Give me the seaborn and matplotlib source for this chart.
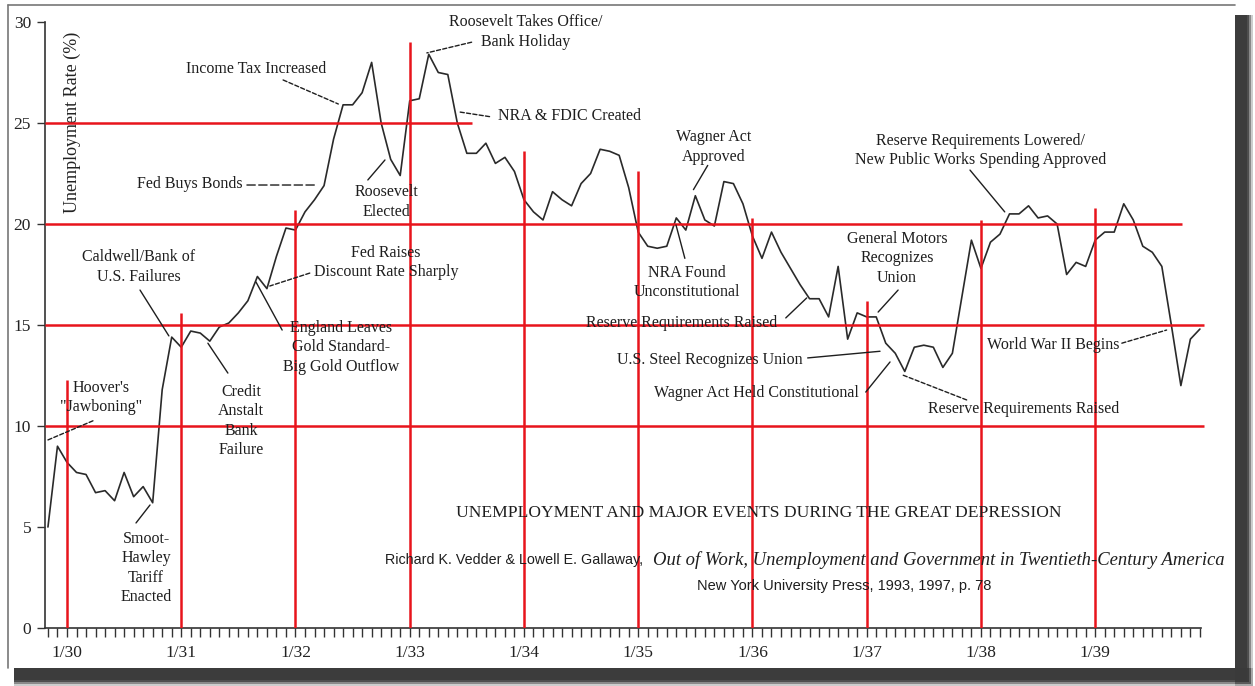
import numpy as np
import pandas as pd
import matplotlib
matplotlib.use("Agg")
import matplotlib.pyplot as plt
import seaborn as sns
from matplotlib.patches import Rectangle
from matplotlib.lines import Line2D

# ---------------- data ----------------
months = pd.period_range("1929-11", "1939-12", freq="M")
rate_1929 = [5.0, 9.0]
rate_1930 = [8.2, 7.7, 7.6, 6.7, 6.8, 6.3, 7.7, 6.5, 7.0, 6.2, 11.8, 14.4]
rate_1931 = [13.9, 14.7, 14.6, 14.2, 14.9, 15.1, 15.6, 16.2, 17.4, 16.8, 18.4, 19.8]
rate_1932 = [19.7, 20.6, 21.2, 21.9, 24.2, 25.9, 25.9, 26.5, 28.0, 25.0, 23.2, 22.4]
rate_1933 = [26.1, 26.2, 28.4, 27.5, 27.4, 25.0, 23.5, 23.5, 24.0, 23.0, 23.3, 22.6]
rate_1934 = [21.2, 20.6, 20.2, 21.6, 21.2, 20.9, 22.0, 22.5, 23.7, 23.6, 23.4, 21.8]
rate_1935 = [19.6, 18.9, 18.8, 18.9, 20.3, 19.7, 21.4, 20.2, 19.9, 22.1, 22.0, 21.0]
rate_1936 = [19.4, 18.3, 19.6, 18.6, 17.8, 17.0, 16.3, 16.3, 15.4, 17.9, 14.3, 15.6]
rate_1937 = [15.4, 15.4, 14.1, 13.6, 12.7, 13.9, 14.0, 13.9, 12.9, 13.6, 16.4, 19.2]
rate_1938 = [17.8, 19.1, 19.5, 20.5, 20.5, 20.9, 20.3, 20.4, 20.0, 17.5, 18.1, 17.9]
rate_1939 = [19.2, 19.6, 19.6, 21.0, 20.2, 18.9, 18.6, 17.9, 15.0, 12.0, 14.3, 14.8]
unemployment = (rate_1929 + rate_1930 + rate_1931 + rate_1932 + rate_1933 + rate_1934
                + rate_1935 + rate_1936 + rate_1937 + rate_1938 + rate_1939)

tick_years = list(range(1930, 1940))
tick_labels = ["1/30", "1/31", "1/32", "1/33", "1/34", "1/35", "1/36", "1/37", "1/38", "1/39"]
year_line_tops = [12.3, 15.6, 20.7, 29.0, 23.6, 22.6, 20.3, 16.2, 20.2, 20.8]
guide_levels = [10, 15, 20, 25]
guide_ends = [119.4, 119.4, 117.1, 42.5]   # months after 1/30
y_ticks = [0, 5, 10, 15, 20, 25, 30]

# ---------------- styling ----------------
sns.set_style("white")
plt.rcParams["font.family"] = ["Liberation Serif", "DejaVu Serif"]
RED = "#e8141c"
INK = "#2a2a2a"
ANN = 11.5

month_index = (months.year - 1930) * 12 + (months.month - 1)
df = pd.DataFrame({"t": np.asarray(month_index), "rate": unemployment})
year_x = [(y - 1930) * 12 for y in tick_years]

W, H = 1255, 686
fig = plt.figure(figsize=(W / 100, H / 100), dpi=100)
fig.patch.set_facecolor("white")
ax = fig.add_axes([45 / W, 58 / H, 1165 / W, 606 / H])
ax.set_facecolor("none")

XMIN, XMAX = -2.31, 120.06
ax.set_xlim(XMIN, XMAX)
ax.set_ylim(0, 30)

# red guide lines
ax.hlines(guide_levels, XMIN, guide_ends, colors=RED, lw=1.8, zorder=4)
ax.vlines(year_x, 0, year_line_tops, colors=RED, lw=1.8, zorder=4)

# series
sns.lineplot(data=df, x="t", y="rate", color=INK, linewidth=1.2, ax=ax, zorder=3)

# axes
for s in ["top", "right"]:
    ax.spines[s].set_visible(False)
for s in ["left", "bottom"]:
    ax.spines[s].set_color("#333333")
    ax.spines[s].set_linewidth(1.2)
ax.spines["bottom"].set_bounds(XMIN, 119.1)
ax.set_xticks(year_x)
ax.set_xticklabels(tick_labels)
ax.set_xticks(list(month_index), minor=True)
ax.tick_params(axis="x", which="both", bottom=True, direction="out", length=6.5, width=1,
               color="#333333", labelsize=12.5, pad=5.5, labelcolor="#222222")
ax.set_yticks(y_ticks)
ax.tick_params(axis="y", left=True, direction="out", length=6, width=1, color="#333333",
               labelsize=12.5, pad=4, labelcolor="#222222")
ax.set_xlabel("")
ax.set_ylabel("Unemployment Rate (%)", fontsize=13, va="center", color="#222222")
ax.yaxis.set_label_coords(0.0232, 0.835)

# ---------------- annotations ----------------
def label(txt, x, y, ha="center", size=ANN, **kw):
    ax.text(x, y, txt, ha=ha, va="center", fontsize=size, color="#1e1e1e",
            linespacing=1.3, clip_on=False, zorder=6, **kw)

def link(p0, p1, dashed=False, style=None):
    ls = style if style is not None else ((0, (3, 1.6)) if dashed else "-")
    ax.annotate("", xy=p1, xytext=p0,
                arrowprops=dict(arrowstyle="-", color="#1e1e1e", lw=1.0,
                                linestyle=ls, shrinkA=0, shrinkB=0),
                annotation_clip=False, zorder=6)

label("Hoover's\n\"Jawboning\"", 3.57, 11.41)
link((-2.0, 9.31), (2.94, 10.3), dashed=True)

label("Smoot-\nHawley\nTariff\nEnacted", 8.3, 2.97)
link((7.25, 5.2), (8.72, 6.09))

label("Caldwell/Bank of\nU.S. Failures", 7.56, 17.87)
link((7.67, 16.73), (10.7, 14.46))

label("Credit\nAnstalt\nBank\nFailure", 18.3, 10.25)
link((16.9, 12.62), (14.8, 14.1))

label("England Leaves\nGold Standard-\nBig Gold Outflow", 28.8, 13.9)
link((19.85, 17.13), (22.6, 14.75))

label("Fed Raises\nDiscount Rate Sharply", 33.5, 18.1)
link((25.5, 17.57), (21.3, 16.93), dashed=True)

label("Fed Buys Bonds", 18.4, 21.98, ha="right")
link((18.9, 21.93), (26.2, 21.93), style=(0, (6, 2.5)))

label("Income Tax Increased", 19.85, 27.67)
link((22.7, 27.13), (28.5, 25.94), dashed=True)

label("Roosevelt\nElected", 33.6, 21.1)
link((31.6, 22.18), (33.4, 23.17))

label("Roosevelt Takes Office/\nBank Holiday", 48.2, 29.5)
link((42.5, 29.0), (37.8, 28.47), dashed=True)

label("NRA & FDIC Created", 45.27, 25.35, ha="left")
link((41.3, 25.54), (44.6, 25.3), dashed=True)

label("Wagner Act\nApproved", 67.9, 23.8)
link((67.3, 22.9), (65.8, 21.7))

label("NRA Found\nUnconstitutional", 65.1, 17.1)
link((64.9, 18.3), (63.97, 19.95))

label("Reserve Requirements Raised", 64.6, 15.1)
link((75.5, 15.35), (77.7, 16.34))

label("U.S. Steel Recognizes Union", 67.5, 13.27)
link((77.8, 13.37), (85.4, 13.7))

label("Wagner Act Held Constitutional", 72.4, 11.63)
link((83.9, 11.68), (86.45, 13.17))

label("Reserve Requirements Raised", 100.5, 10.84)
link((94.5, 11.29), (87.8, 12.52), dashed=True)

label("General Motors\nRecognizes\nUnion", 87.2, 18.3)
link((87.3, 16.73), (85.2, 15.64))

label("Reserve Requirements Lowered/\nNew Public Works Spending Approved", 96.0, 23.64)
link((94.85, 22.67), (98.5, 20.6))

label("World War II Begins", 103.6, 14.0)
link((110.8, 14.1), (115.5, 14.75), dashed=True)

# title & source
label("UNEMPLOYMENT AND MAJOR EVENTS DURING THE GREAT DEPRESSION", 72.7, 5.69, size=12.6)
ax.text(33.4, 3.37, "Richard K. Vedder & Lowell E. Gallaway,", ha="left", va="center",
        fontsize=10.3, family=["Liberation Sans", "DejaVu Sans"], color="#1e1e1e",
        clip_on=False, zorder=6)
ax.text(61.55, 3.37, "Out of Work, Unemployment and Government in Twentieth-Century America",
        ha="left", va="center", fontsize=13.4, style="italic", color="#1e1e1e",
        clip_on=False, zorder=6)
ax.text(81.6, 2.08, "New York University Press, 1993, 1997, p. 78", ha="center", va="center",
        fontsize=10.5, family=["Liberation Sans", "DejaVu Sans"], color="#1e1e1e",
        clip_on=False, zorder=6)

# ---------------- frame with drop shadow ----------------
tf = fig.transFigure
fig.add_artist(Line2D([8 / W, 1235 / W], [1 - 5 / H, 1 - 5 / H], transform=tf,
                      color="#777777", lw=1.2))
fig.add_artist(Line2D([8 / W, 8 / W], [1 - 5 / H, 1 - 668 / H], transform=tf,
                      color="#777777", lw=1.2))
for k, a in enumerate([0.25, 0.45, 0.75, 0.9]):
    grow = (3 - k) * 2
    # right shadow: core x 1235..1247, y from image 15 down to bottom
    fig.add_artist(Rectangle((1235 / W, (6 - grow) / H), (12 + grow) / W, (665 + grow) / H,
                             transform=tf, color="#3a3a3a", alpha=a, lw=0))
    # bottom shadow: core image y 668..680
    fig.add_artist(Rectangle((14 / W, (6 - grow) / H), (1233 + grow) / W, (12 + grow) / H,
                             transform=tf, color="#3a3a3a", alpha=a, lw=0))

fig.savefig("out.png", dpi=100)
